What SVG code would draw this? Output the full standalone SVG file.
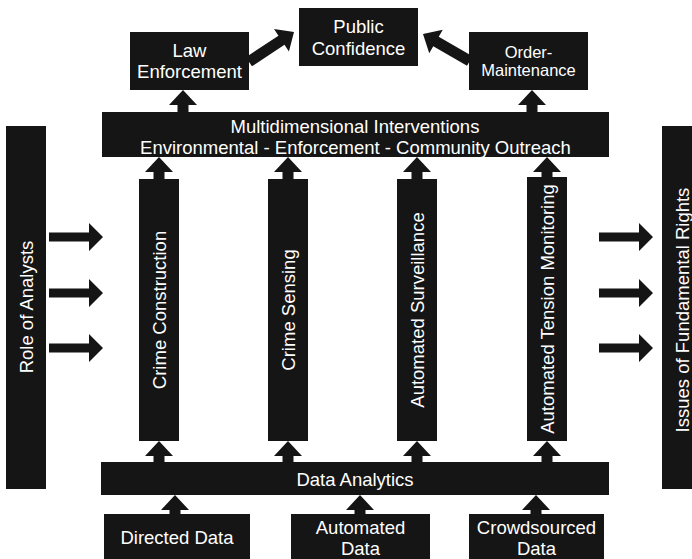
<svg xmlns="http://www.w3.org/2000/svg" xmlns:xlink="http://www.w3.org/1999/xlink" width="692" height="559" viewBox="0 0 692 559">
<style>
  .box { fill: #151515; }
  .t { font-family: "Liberation Sans", Arial, Helvetica, sans-serif; font-size: 18.5px; fill: #ffffff; text-anchor: middle; }
  .s { font-size: 16.5px; }
  .arr { fill: #151515; }
</style>
<defs>
  <path id="up" d="M0,0 L14,15 L5.5,15 L5.5,22 L-5.5,22 L-5.5,15 L-14,15 Z"/>
  <path id="right" d="M0,0 L-14,-14 L-14,-4.5 L-54,-4.5 L-54,4.5 L-14,4.5 L-14,14 Z"/>
  <path id="diag" d="M0,0 L-15,-13.5 L-15,-5.5 L-54,-5.5 L-54,5.5 L-15,5.5 L-15,13.5 Z"/>
</defs>
<rect width="692" height="559" fill="#ffffff"/>

<g id="public-confidence">
  <rect class="box" x="299" y="8" width="119" height="58"/>
  <text class="t" x="358.5" y="33">Public</text>
  <text class="t" x="358.5" y="55">Confidence</text>
</g>
<g id="law-enforcement">
  <rect class="box" x="130" y="32" width="119" height="58"/>
  <text class="t" x="189.5" y="57">Law</text>
  <text class="t" x="189.5" y="78">Enforcement</text>
</g>
<g id="order-maintenance">
  <rect class="box" x="469" y="32" width="119" height="58"/>
  <text class="t s" x="528.5" y="58">Order-</text>
  <text class="t s" x="528.5" y="76">Maintenance</text>
</g>
<g id="multidimensional-interventions">
  <rect class="box" x="102" y="112" width="507" height="45"/>
  <text class="t" x="355" y="133">Multidimensional Interventions</text>
  <text class="t" x="355.5" y="154">Environmental - Enforcement - Community Outreach</text>
</g>
<g id="crime-construction">
  <rect class="box" x="139" y="179" width="40" height="262"/>
  <text class="t" transform="translate(165.5,310) rotate(-90)">Crime Construction</text>
</g>
<g id="crime-sensing">
  <rect class="box" x="268" y="179" width="40" height="262"/>
  <text class="t" transform="translate(294.5,310) rotate(-90)">Crime Sensing</text>
</g>
<g id="automated-surveillance">
  <rect class="box" x="397" y="179" width="40" height="262"/>
  <text class="t" transform="translate(423.5,310) rotate(-90)">Automated Surveillance</text>
</g>
<g id="automated-tension-monitoring">
  <rect class="box" x="527" y="177" width="40" height="264"/>
  <text class="t" transform="translate(553.5,309) rotate(-90)">Automated Tension Monitoring</text>
</g>
<g id="role-of-analysts">
  <rect class="box" x="6" y="126" width="40" height="363"/>
  <text class="t" transform="translate(32.5,307) rotate(-90)">Role of Analysts</text>
</g>
<g id="issues-of-fundamental-rights">
  <rect class="box" x="662" y="126" width="40" height="363"/>
  <text class="t" transform="translate(688.5,310) rotate(-90)">Issues of Fundamental Rights</text>
</g>
<g id="data-analytics">
  <rect class="box" x="101" y="462" width="508" height="33"/>
  <text class="t" x="355" y="486">Data Analytics</text>
</g>
<g id="directed-data">
  <rect class="box" x="104" y="514" width="146" height="50"/>
  <text class="t" x="177" y="544">Directed Data</text>
</g>
<g id="automated-data">
  <rect class="box" x="291" y="514" width="139" height="50"/>
  <text class="t" x="360.5" y="534">Automated</text>
  <text class="t" x="360.5" y="555">Data</text>
</g>
<g id="crowdsourced-data">
  <rect class="box" x="469" y="514" width="135" height="50"/>
  <text class="t" x="536.5" y="534">Crowdsourced</text>
  <text class="t" x="536.5" y="555">Data</text>
</g>

<g id="connectors" class="arr">
  <use xlink:href="#diag" transform="translate(294,32) rotate(-33.4)"/>
  <use xlink:href="#diag" transform="translate(423,34) rotate(-150)"/>
  <use xlink:href="#up" x="183" y="90"/>
  <use xlink:href="#up" x="532" y="90"/>
  <use xlink:href="#up" x="159" y="157"/>
  <use xlink:href="#up" x="288" y="157"/>
  <use xlink:href="#up" x="417" y="157"/>
  <use xlink:href="#up" x="547" y="157"/>
  <use xlink:href="#up" x="159" y="441"/>
  <use xlink:href="#up" x="288" y="441"/>
  <use xlink:href="#up" x="417" y="441"/>
  <use xlink:href="#up" x="547" y="441"/>
  <use xlink:href="#up" x="175" y="495"/>
  <use xlink:href="#up" x="360" y="495"/>
  <use xlink:href="#up" x="536" y="495"/>
  <use xlink:href="#right" x="103" y="237"/>
  <use xlink:href="#right" x="103" y="293"/>
  <use xlink:href="#right" x="103" y="348"/>
  <use xlink:href="#right" x="653" y="237"/>
  <use xlink:href="#right" x="653" y="293"/>
  <use xlink:href="#right" x="653" y="348"/>
</g>
</svg>
